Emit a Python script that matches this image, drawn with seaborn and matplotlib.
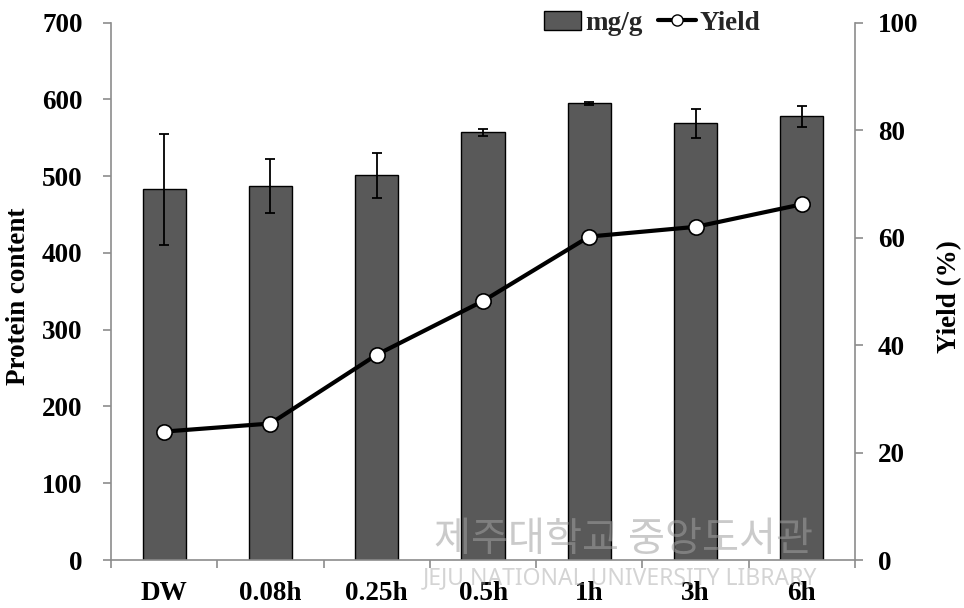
import matplotlib
matplotlib.use("Agg")
import matplotlib.pyplot as plt
import seaborn as sns
import numpy as np
import pandas as pd
from matplotlib.patches import Patch
from matplotlib.lines import Line2D

# ---- data ----
categories = ["DW", "0.08h", "0.25h", "0.5h", "1h", "3h", "6h"]
protein = [483, 487, 501, 557, 595, 569, 578]
protein_err = [72, 35, 29, 5, 2, 19, 14]
yield_pct = [23.9, 25.4, 38.2, 48.2, 60.2, 62.0, 66.2]
left_ticks = [0, 100, 200, 300, 400, 500, 600, 700]
right_ticks = [0, 20, 40, 60, 80, 100]

sns.set_theme(style="white")
plt.rcParams["font.family"] = ["Liberation Serif", "DejaVu Serif"]
plt.rcParams["font.weight"] = "bold"

FS = 19.5
AXC = "#8c8c8c"
BAR = "#595959"

fig = plt.figure(figsize=(9.64, 6.08), dpi=100)
ax = fig.add_axes([111 / 964, 48 / 608, (855 - 111) / 964, (560 - 22.7) / 608])

df = pd.DataFrame({"cat": categories, "protein": protein})
sns.barplot(data=df, x="cat", y="protein", ax=ax, color=BAR, saturation=1,
            width=0.405, edgecolor="black", linewidth=1, errorbar=None, zorder=2)
xpos = np.arange(len(categories))
ax.errorbar(xpos, protein, yerr=protein_err, fmt="none", ecolor="black",
            elinewidth=1.3, capsize=3.3, capthick=1.3, zorder=3)

ax.set_ylim(0, 700)
ax.set_yticks(left_ticks)
ax.set_xlim(-0.5, len(categories) - 0.5)
ax.set_xlabel("")
ax.set_ylabel("Protein content", fontsize=FS, fontweight="bold", color="black")
ax.yaxis.set_label_coords((31 - 111) / 744, 0.49)

ax2 = ax.twinx()
ax2.plot(xpos, yield_pct, color="black", linewidth=3, marker="o", markersize=11,
         markerfacecolor="white", markeredgecolor="black", markeredgewidth=1.2,
         zorder=4)
ax2.set_ylim(0, 100)
ax2.set_yticks(right_ticks)
ax2.set_ylabel("Yield (%)", fontsize=FS, fontweight="bold", color="black")
ax2.yaxis.set_label_coords((937 - 111) / 744, 0.49)
ax.set_xlim(-0.5, len(categories) - 0.5)

# spines / ticks
for a in (ax, ax2):
    a.spines["top"].set_visible(False)
    for s in a.spines.values():
        s.set_color(AXC)
        s.set_linewidth(1.2)
ax.spines["right"].set_visible(False)
ax2.spines["left"].set_visible(False)
ax2.spines["bottom"].set_visible(False)

ax.tick_params(axis="y", which="major", direction="out", length=5.5, width=1.2,
               color=AXC, left=True, pad=15, labelsize=FS, labelcolor="black")
ax2.tick_params(axis="y", which="major", direction="out", length=5.5, width=1.2,
                color=AXC, right=True, pad=11, labelsize=FS, labelcolor="black")
ax.set_xticks(xpos)
ax.set_xticklabels(categories)
ax.set_xticks(np.arange(-0.5, len(categories)), minor=True)
ax.tick_params(axis="x", which="major", length=0, pad=15, labelsize=FS,
               labelcolor="black")
ax.tick_params(axis="x", which="minor", direction="out", length=5.5, width=1.2,
               color=AXC, bottom=True)
for lab in ax.get_xticklabels() + ax.get_yticklabels() + ax2.get_yticklabels():
    lab.set_fontweight("bold")
ax.grid(False)
ax2.grid(False)

# legend
h_bar = Patch(facecolor=BAR, edgecolor="black", linewidth=1)
h_line = Line2D([], [], color="black", linewidth=3, marker="o", markersize=8,
                markerfacecolor="white", markeredgecolor="black", markeredgewidth=1)
fig.legend([h_bar, h_line], ["mg/g", "Yield"], loc="center",
           bbox_to_anchor=(652 / 964, 1 - 23 / 608), ncol=2, frameon=False,
           prop={"size": FS, "weight": "bold"}, handlelength=1.4,
           handletextpad=0.15, columnspacing=0.55, borderpad=0)

# watermark
fig.text(624 / 964, 1 - 540 / 608, "제주대학교 중앙도서관",
         family=["Noto Sans CJK KR", "DejaVu Sans"], fontsize=29,
         fontweight="normal", color="#a0a0a0", alpha=0.55,
         ha="center", va="center", zorder=10)
fig.text(620 / 964, 1 - 578 / 608, "JEJU NATIONAL UNIVERSITY LIBRARY",
         family=["Liberation Sans Narrow", "Noto Sans", "DejaVu Sans"],
         fontsize=16.5, fontweight="normal", color="#a0a0a0", alpha=0.45,
         ha="center", va="center", zorder=10)

fig.savefig("out.png", dpi=100)
